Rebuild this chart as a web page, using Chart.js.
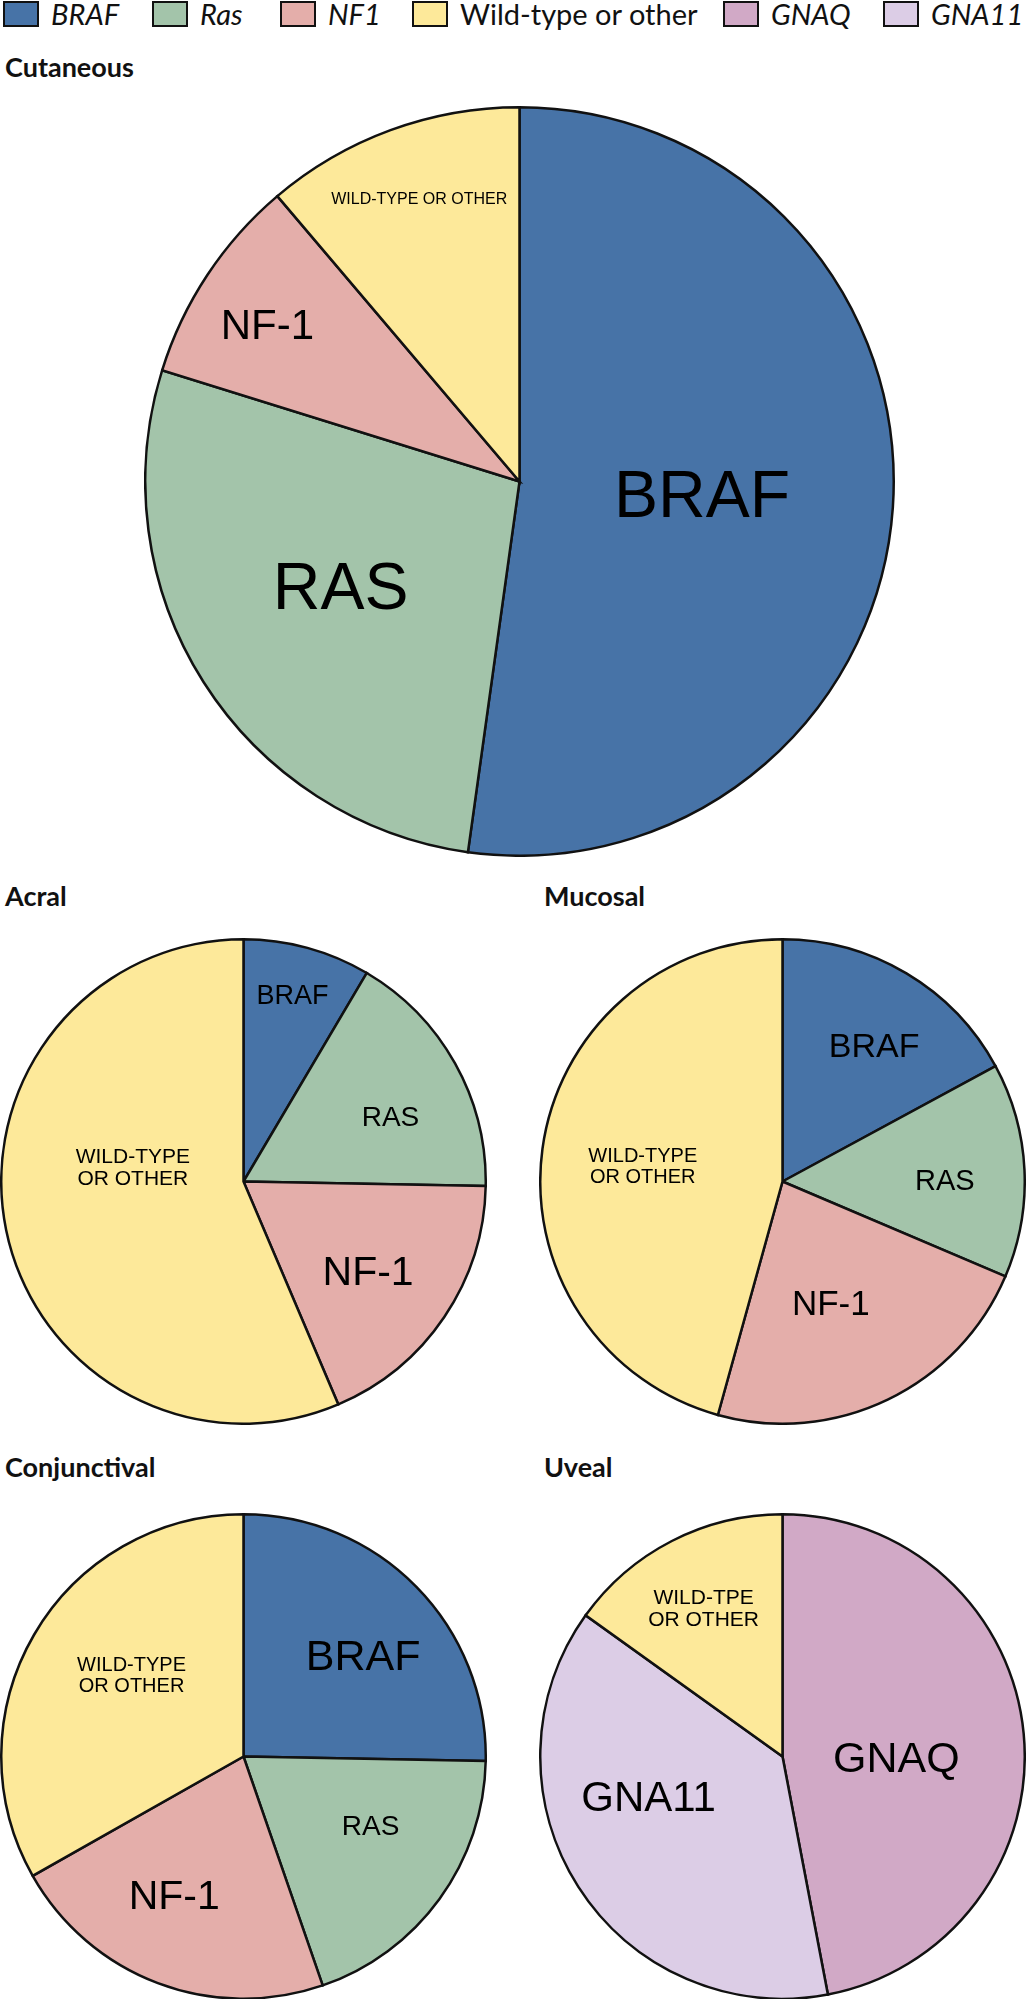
<!DOCTYPE html>
<html>
<head>
<meta charset="utf-8">
<script src="https://cdn.jsdelivr.net/npm/chart.js@4.4.1/dist/chart.umd.min.js"></script>
<style>
    body { margin: 0; background: #fff; width: 1026px; height: 1999px; position: relative; overflow: hidden; font-family: Lato, "Open Sans", sans-serif; }
    .legend { position: absolute; left: 0; top: 0; height: 28px; width: 1026px; }
    .legend-item { position: absolute; top: 0; display: flex; align-items: center; white-space: nowrap; font-size: 29px; line-height: 28px; color: #111; }
    .legend-item .box { width: 32px; height: 22px; border: 2px solid #111; margin-right: 12px; flex: none; }
    .legend-item i { font-style: italic; }
    .title { position: absolute; font-weight: bold; font-size: 27px; color: #111; }
    .pie { position: absolute; }
</style>
</head>
<body>
<div class="legend" id="legend"></div>
<div class="title" style="left:5px; top:50px;">Cutaneous</div>
<div class="title" style="left:5px; top:879px;">Acral</div>
<div class="title" style="left:544px; top:879px;">Mucosal</div>
<div class="title" style="left:5px; top:1450px;">Conjunctival</div>
<div class="title" style="left:544px; top:1450px;">Uveal</div>

<div class="pie" id="wrapCutaneous"><canvas id="cutaneousChart"></canvas></div>
<div class="pie" id="wrapAcral"><canvas id="acralChart"></canvas></div>
<div class="pie" id="wrapMucosal"><canvas id="mucosalChart"></canvas></div>
<div class="pie" id="wrapConjunctival"><canvas id="conjunctivalChart"></canvas></div>
<div class="pie" id="wrapUveal"><canvas id="uvealChart"></canvas></div>

<script>
// Legend entries
const legendNames = ['BRAF', 'Ras', 'NF1', 'Wild-type or other', 'GNAQ', 'GNA11'];
const legendItalic = [true, true, true, false, true, true];

// Slice values (percent), clockwise from 12 o'clock
const cutaneousLabels = ['BRAF', 'RAS', 'NF-1', 'WILD-TYPE OR OTHER'];
const cutaneousValues = [52.2, 27.6, 9.0, 11.2];

const acralLabels = ['BRAF', 'RAS', 'NF-1', 'WILD-TYPE\nOR OTHER'];
const acralValues = [8.5, 16.8, 18.3, 56.4];

const mucosalLabels = ['BRAF', 'RAS', 'NF-1', 'WILD-TYPE\nOR OTHER'];
const mucosalValues = [17.1, 14.3, 22.9, 45.7];

const conjunctivalLabels = ['BRAF', 'RAS', 'NF-1', 'WILD-TYPE\nOR OTHER'];
const conjunctivalValues = [25.3, 19.4, 22.1, 33.2];

const uvealLabels = ['GNAQ', 'GNA11', 'WILD-TPE\nOR OTHER'];
const uvealValues = [47.0, 37.9, 15.1];

// Colours
const colors = {
    braf: '#4773a7',
    ras: '#a3c4aa',
    nf1: '#e4aeaa',
    wild: '#fde99a',
    gnaq: '#d1a9c6',
    gna11: '#dccde6'
};
const legendColors = [colors.braf, colors.ras, colors.nf1, colors.wild, colors.gnaq, colors.gna11];
const legendX = [3, 152, 280, 412, 723, 883];

// Build the HTML legend
const legendEl = document.getElementById('legend');
legendNames.forEach((name, i) => {
    const item = document.createElement('div');
    item.className = 'legend-item';
    item.style.left = legendX[i] + 'px';
    const box = document.createElement('span');
    box.className = 'box';
    box.style.background = legendColors[i];
    item.appendChild(box);
    const txt = document.createElement(legendItalic[i] ? 'i' : 'span');
    txt.textContent = name;
    item.appendChild(txt);
    legendEl.appendChild(item);
});

// Draws the text inside each slice, near the slice's mid angle
const sliceLabels = {
    id: 'sliceLabels',
    afterDatasetsDraw(chart, args, opts) {
        const ctx = chart.ctx;
        const arcs = chart.getDatasetMeta(0).data;
        ctx.save();
        ctx.fillStyle = '#000';
        ctx.textAlign = 'center';
        ctx.textBaseline = 'middle';
        arcs.forEach((arc, i) => {
            const p = arc.getProps(['x', 'y', 'startAngle', 'endAngle', 'outerRadius'], true);
            const mid = (p.startAngle + p.endAngle) / 2 + opts.shift[i] * Math.PI / 180;
            const dist = p.outerRadius * opts.radius[i];
            const x = p.x + Math.cos(mid) * dist;
            const y = p.y + Math.sin(mid) * dist;
            const size = opts.size[i];
            ctx.font = size + 'px "Liberation Sans", Arial, sans-serif';
            const lines = chart.data.labels[i].split('\n');
            lines.forEach((line, j) => {
                ctx.fillText(line, x, y + (j - (lines.length - 1) / 2) * size * 1.05);
            });
        });
        ctx.restore();
    }
};

function makePie(canvasId, wrapId, cx, cy, r, labels, values, bg, labelRadius, labelShift, labelSize) {
    const border = 2.5;
    const size = Math.round(2 * r + 2 * border);
    const wrap = document.getElementById(wrapId);
    wrap.style.left = (cx - size / 2) + 'px';
    wrap.style.top = (cy - size / 2) + 'px';
    wrap.style.width = size + 'px';
    wrap.style.height = size + 'px';
    const canvas = document.getElementById(canvasId);
    canvas.width = size;
    canvas.height = size;
    canvas.style.width = size + 'px';
    canvas.style.height = size + 'px';
    return new Chart(canvas.getContext('2d'), {
        type: 'pie',
        data: {
            labels: labels,
            datasets: [{
                data: values,
                backgroundColor: bg,
                borderColor: '#111',
                borderWidth: border,
                borderJoinStyle: 'miter'
            }]
        },
        options: {
            responsive: false,
            animation: false,
            layout: { padding: 0 },
            plugins: {
                legend: { display: false },
                tooltip: { enabled: false },
                sliceLabels: { radius: labelRadius, shift: labelShift, size: labelSize }
            }
        },
        plugins: [sliceLabels]
    });
}

const fourColors = [colors.braf, colors.ras, colors.nf1, colors.wild];

makePie('cutaneousChart', 'wrapCutaneous', 519, 481, 373,
    cutaneousLabels, cutaneousValues, fourColors,
    [0.49, 0.56, 0.79, 0.80], [1.5, 1, -2, 0.6], [66, 66, 42, 16]);

makePie('acralChart', 'wrapAcral', 243, 1181, 241,
    acralLabels, acralValues, fourColors,
    [0.79, 0.66, 0.64, 0.46], [-0.5, 6, 2.5, 18.3], [27, 28, 41, 21]);

makePie('mucosalChart', 'wrapMucosal', 782, 1181, 241,
    mucosalLabels, mucosalValues, fourColors,
    [0.67, 0.67, 0.55, 0.58], [3.6, 3, 4.5, -1.7], [34, 29, 35, 20]);

makePie('conjunctivalChart', 'wrapConjunctival', 243, 1756, 241,
    conjunctivalLabels, conjunctivalValues, fourColors,
    [0.64, 0.60, 0.65, 0.57], [5, -7, 5.4, 5.6], [43, 28, 41, 20]);

makePie('uvealChart', 'wrapUveal', 782, 1756, 241,
    uvealLabels, uvealValues, [colors.gnaq, colors.gna11, colors.wild],
    [0.47, 0.58, 0.69], [7.4, 15, -1], [43, 42, 21]);
</script>
</body>
</html>
